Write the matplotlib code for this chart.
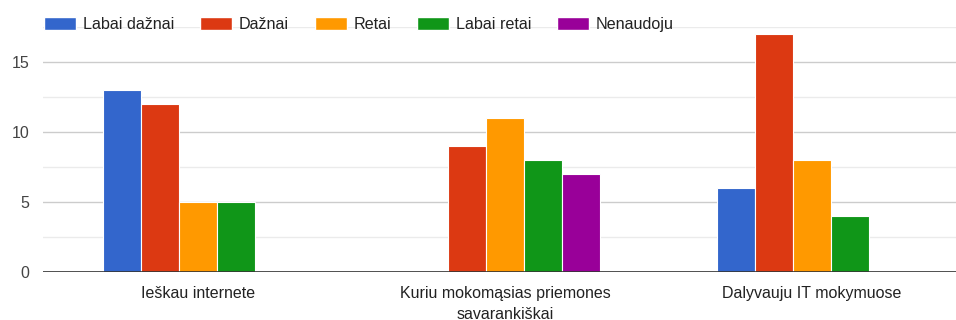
import numpy as np
import matplotlib
matplotlib.use("Agg")
import matplotlib.pyplot as plt
from matplotlib.patches import Patch

plt.rcParams['font.family'] = ['Liberation Sans', 'DejaVu Sans']

categories = ["Ieškau internete", "Kuriu mokomąsias priemones\nsavarankiškai", "Dalyvauju IT mokymuose"]
series = ["Labai dažnai", "Dažnai", "Retai", "Labai retai", "Nenaudoju"]
colors = ["#3366cc", "#dc3912", "#ff9900", "#109618", "#990099"]

labai_daznai = [13, 0, 6]
daznai = [12, 9, 17]
retai = [5, 11, 8]
labai_retai = [5, 8, 4]
nenaudoju = [0, 7, 0]
values = [labai_daznai, daznai, retai, labai_retai, nenaudoju]

fig = plt.figure(figsize=(9.56, 3.2), dpi=100)
ax = fig.add_axes([43 / 956, 48 / 320, 1 - 43 / 956, 245 / 320])

x = np.arange(len(categories))
w = 0.124
for i, (vals, c) in enumerate(zip(values, colors)):
    ax.bar(x + (i - 2) * w, vals, width=w, color=c, edgecolor="white", linewidth=0.8, zorder=3)

ax.set_xlim(-0.505, 2.469)
ax.set_ylim(0, 17.5)
ax.set_yticks([0, 5, 10, 15])
ax.set_yticks([2.5, 7.5, 12.5, 17.5], minor=True)
ax.grid(axis="y", which="major", color="#cccccc", linewidth=1, zorder=0)
ax.grid(axis="y", which="minor", color="#ebebeb", linewidth=1, zorder=0)
ax.axhline(0, color="#333333", linewidth=1.2, zorder=4)

ax.set_xticks(x)
ax.set_xticklabels(categories, fontsize=11.5, color="#222222", linespacing=1.5)
ax.tick_params(axis="x", length=0, pad=10)
ax.tick_params(axis="y", which="both", length=0, labelsize=11.5, labelcolor="#444444", pad=10)
for s in ax.spines.values():
    s.set_visible(False)

# legend strip along the top
handles = [Patch(facecolor=c, edgecolor="white") for c in colors]
fig.legend(handles, series, loc="center left", bbox_to_anchor=(44 / 956, 1 - 24.5 / 320), ncol=5,
           frameon=False, fontsize=11.6, handlelength=1.98, handleheight=0.93, borderpad=0,
           borderaxespad=0, handletextpad=0.43, columnspacing=1.6, labelcolor="#222222")

fig.savefig("out.png", dpi=100, facecolor="white")
